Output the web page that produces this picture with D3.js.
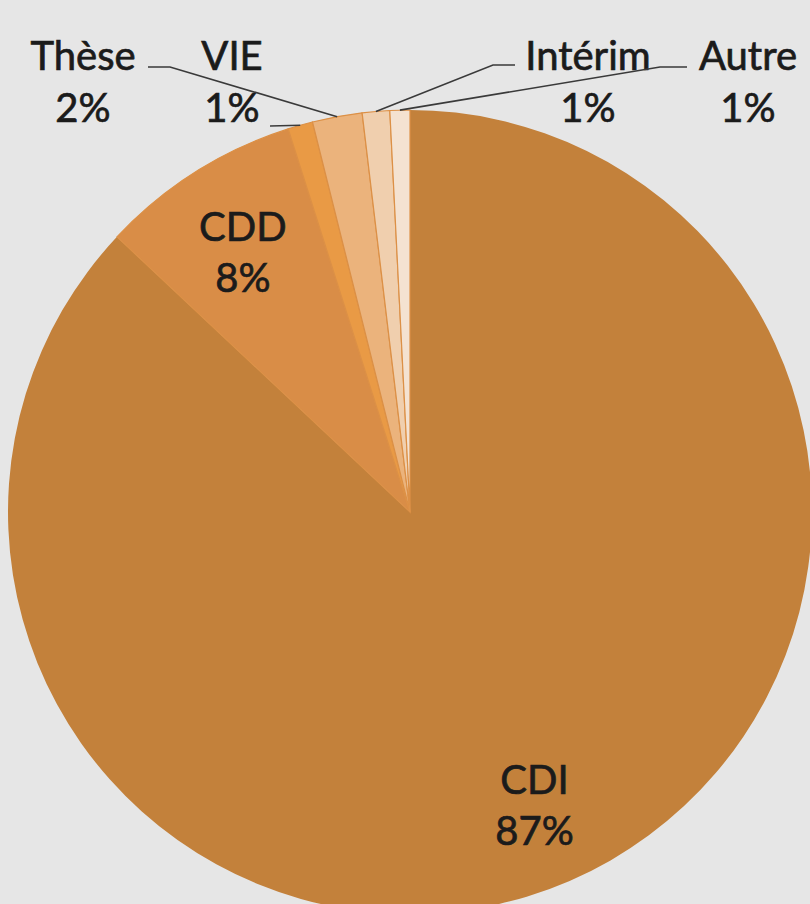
<!DOCTYPE html>
<html>
<head>
<meta charset="utf-8">
<script src="https://cdn.jsdelivr.net/npm/d3@7"></script>
<style>
  html, body { margin: 0; padding: 0; background: #e6e6e6; }
  svg { display: block; }
  text { font-family: Lato, "Open Sans", sans-serif; fill: #1b1b1b; stroke: #1b1b1b; stroke-width: 0.7px; }
</style>
</head>
<body>
<svg id="chart" width="810" height="904"></svg>
<script>
// ---- data ----
const categories = ["CDI", "CDD", "VIE", "Thèse", "Intérim", "Autre"];
const values = [87.0, 8.1, 1.0, 2.0, 1.1, 0.8];
const percentLabels = ["87%", "8%", "1%", "2%", "1%", "1%"];
const colors = ["#c3813b", "#d98d47", "#e99a45", "#ebb37c", "#f0cfae", "#f4e2d1"];

// ---- layout ----
const W = 810, H = 904;
const cx = 410, cy = 512, R = 402;
const fontSize = 40, lineGap = 51;

const svg = d3.select("#chart");
svg.append("rect").attr("width", W).attr("height", H).attr("fill", "#e6e6e6");

const g = svg.append("g").attr("transform", `translate(${cx},${cy})`);

const data = categories.map((c, i) => ({ name: c, value: values[i], pct: percentLabels[i], color: colors[i] }));

const pie = d3.pie().value(d => d.value).sort(null).startAngle(0).endAngle(2 * Math.PI);
const arcs = pie(data);
const arc = d3.arc().innerRadius(0).outerRadius(R);

g.selectAll("path.slice")
  .data(arcs)
  .join("path")
  .attr("class", "slice")
  .attr("d", arc)
  .attr("fill", d => d.data.color)
  .attr("stroke", d => d.index === 0 ? "none" : "#dc9046")
  .attr("stroke-width", 1.2);

// inside labels (CDI, CDD)
const inArc = d3.arc().innerRadius(R * 0.78).outerRadius(R * 0.78);
arcs.filter(d => d.index < 2).forEach(d => {
  const [x, y] = inArc.centroid(d);
  const t = g.append("text").attr("text-anchor", "middle").attr("font-size", fontSize);
  t.append("tspan").attr("x", x).attr("y", y - 6).text(d.data.name);
  t.append("tspan").attr("x", x).attr("y", y - 6 + lineGap).text(d.data.pct);
});

// outside labels with leader lines
const outside = {
  "Thèse":   { x: 83,  y: 70, from: 148, elbow: 170, ly: 67 },
  "VIE":     { x: 232, y: 70, from: 270, elbow: null, ly: 126 },
  "Intérim": { x: 588, y: 70, from: 515, elbow: 493, ly: 65 },
  "Autre":   { x: 748, y: 70, from: 687, elbow: 660, ly: 67 }
};
const edgeArc = d3.arc().innerRadius(R).outerRadius(R);

arcs.filter(d => outside[d.data.name]).forEach(d => {
  const o = outside[d.data.name];
  const [ex, ey] = edgeArc.centroid(d);
  const px = ex + cx, py = ey + cy;
  const pts = o.elbow === null
    ? [[o.from, o.ly], [px, py]]
    : [[o.from, o.ly], [o.elbow, o.ly], [px, py]];
  svg.append("path")
    .attr("d", d3.line()(pts))
    .attr("fill", "none")
    .attr("stroke", "#3a3a3a")
    .attr("stroke-width", 1.6);
  const t = svg.append("text").attr("text-anchor", "middle").attr("font-size", fontSize);
  t.append("tspan").attr("x", o.x).attr("y", o.y).text(d.data.name);
  t.append("tspan").attr("x", o.x).attr("y", o.y + lineGap + 1).text(d.data.pct);
});
</script>
</body>
</html>
